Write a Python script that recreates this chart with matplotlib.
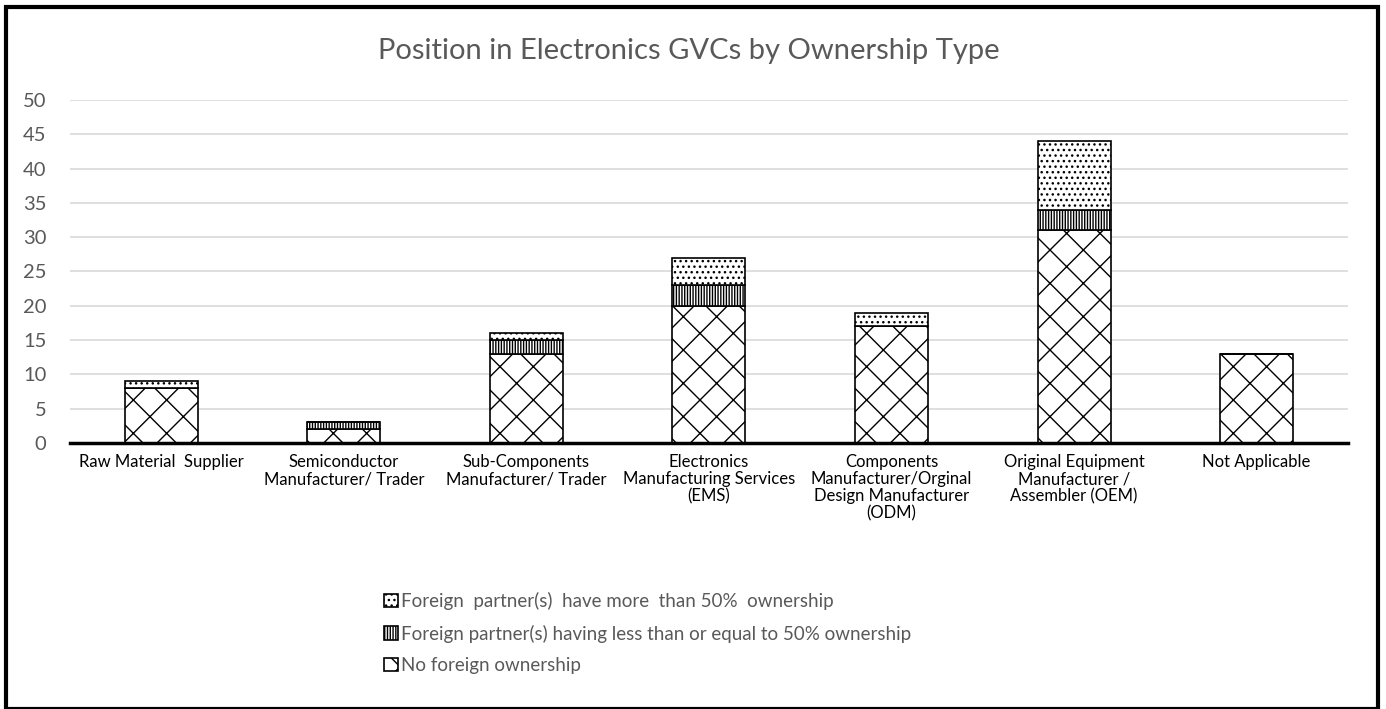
import matplotlib
matplotlib.use("Agg")
import matplotlib.pyplot as plt
import matplotlib.patches as mpatches
import numpy as np

plt.rcParams['font.family'] = ['Lato', 'DejaVu Sans']
plt.rcParams['hatch.linewidth'] = 1.0

categories = [
    "Raw Material  Supplier",
    "Semiconductor\nManufacturer/ Trader",
    "Sub-Components\nManufacturer/ Trader",
    "Electronics\nManufacturing Services\n(EMS)",
    "Components\nManufacturer/Orginal\nDesign Manufacturer\n(ODM)",
    "Original Equipment\nManufacturer /\nAssembler (OEM)",
    "Not Applicable",
]
no_foreign = [8, 2, 13, 20, 17, 31, 13]
foreign_le50 = [0, 1, 2, 3, 0, 3, 0]
foreign_gt50 = [1, 0, 1, 4, 2, 10, 0]

series_labels = [
    "No foreign ownership",
    "Foreign partner(s) having less than or equal to 50% ownership",
    "Foreign  partner(s)  have more  than 50%  ownership",
]

gray = "#595959"

fig = plt.figure(figsize=(13.86, 7.09), dpi=100)
ax = fig.add_axes([0.0505, 0.3752, 0.922, 0.4838])

x = np.arange(len(categories))
w = 0.4
b1 = ax.bar(x, no_foreign, w, color="white", edgecolor="black", hatch="x", linewidth=1.2)
b2 = ax.bar(x, foreign_le50, w, bottom=no_foreign, color="white", edgecolor="black",
            hatch="||||||", linewidth=1.2)
bottom3 = np.array(no_foreign) + np.array(foreign_le50)
b3 = ax.bar(x, foreign_gt50, w, bottom=bottom3, color="white", edgecolor="black",
            hatch="...", linewidth=1.2)

ax.set_xlim(-0.5, len(categories) - 0.5)
ax.set_ylim(0, 50)
ax.set_yticks(range(0, 51, 5))
ax.yaxis.grid(True, color="#d9d9d9", linewidth=1.2)
ax.set_axisbelow(True)
for s in ["top", "right", "left"]:
    ax.spines[s].set_visible(False)
ax.spines["bottom"].set_linewidth(2.5)
ax.spines["bottom"].set_color("black")
ax.tick_params(axis="y", length=0, labelsize=14.5, labelcolor=gray, pad=17)
ax.tick_params(axis="x", length=0, labelsize=12, pad=8)
ax.set_xticks(x)
ax.set_xticklabels(categories, linespacing=1.07)

fig.text(0.497, 0.928, "Position in Electronics GVCs by Ownership Type",
         ha="center", va="center", fontsize=21, color=gray)

handles = [b3, b2, b1]
labels = [series_labels[2], series_labels[1], series_labels[0]]
leg = fig.legend(handles, labels, loc="upper left", bbox_to_anchor=(0.272, 0.175),
                 frameon=False, fontsize=13.5, labelspacing=0.75, handlelength=0.7,
                 handleheight=0.7, handletextpad=0.2, borderaxespad=0)
for t in leg.get_texts():
    t.set_color(gray)

# outer frame
fig.patches.append(mpatches.Rectangle((0.004, 0.0), 0.99, 0.99, transform=fig.transFigure,
                                      fill=False, edgecolor="black", linewidth=3))

fig.savefig("out.png", dpi=100)
